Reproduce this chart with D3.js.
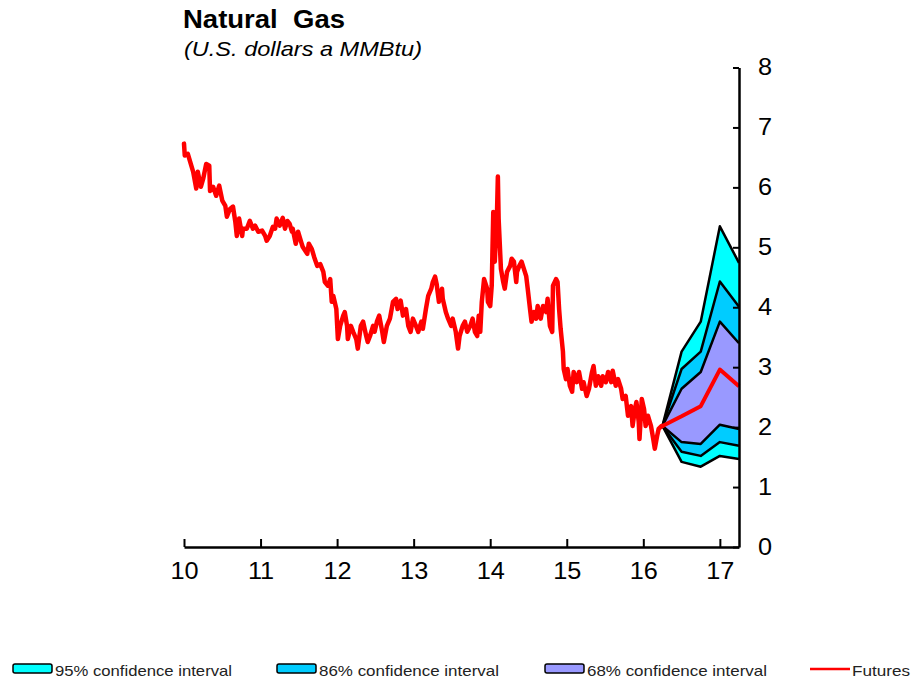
<!DOCTYPE html>
<html>
<head>
<meta charset="utf-8">
<script src="https://cdn.jsdelivr.net/npm/d3@7"></script>
<style>
  html, body { margin: 0; padding: 0; background: #fff; }
  svg { display: block; font-family: Arial, "Liberation Sans", sans-serif; }
</style>
</head>
<body>
<svg id="chart" width="913" height="679"></svg>
<script>
// ---- Data ----
const priceYears = [
 10.00,10.01,10.05,10.08,10.12,10.16,10.18,10.22,10.25,10.29,10.33,10.34,10.38,10.42,10.46,10.50,10.54,10.56,10.60,10.64,
 10.67,10.69,10.72,10.76,10.77,10.82,10.86,10.90,10.93,10.97,11.02,11.06,11.08,11.12,11.16,11.19,11.21,11.25,11.29,11.32,
 11.35,11.38,11.41,11.42,11.46,11.49,11.53,11.55,11.61,11.63,11.67,11.70,11.74,11.78,11.82,11.84,11.88,11.91,11.93,11.95,
 11.99,12.01,12.04,12.08,12.10,12.13,12.14,12.18,12.21,12.25,12.27,12.31,12.34,12.38,12.40,12.43,12.47,12.49,12.52,12.55,
 12.59,12.61,12.65,12.69,12.73,12.77,12.79,12.83,12.86,12.90,12.93,12.96,12.99,13.03,13.06,13.10,13.12,13.16,13.19,13.23,
 13.25,13.28,13.30,13.33,13.37,13.38,13.42,13.45,13.49,13.51,13.55,13.58,13.60,13.64,13.67,13.70,13.74,13.77,13.80,13.83,
 13.85,13.87,13.89,13.92,13.96,13.97,14.00,14.02,14.04,14.06,14.09,14.10,14.11,14.14,14.17,14.19,14.22,14.26,14.28,14.31,
 14.34,14.35,14.38,14.41,14.44,14.47,14.49,14.52,14.54,14.57,14.60,14.62,14.66,14.69,14.73,14.75,14.78,14.81,14.82,14.86,
 14.88,14.90,14.92,14.95,14.96,14.99,15.01,15.04,15.07,15.09,15.13,15.16,15.20,15.22,15.26,15.29,15.33,15.35,15.38,15.41,
 15.45,15.47,15.51,15.54,15.58,15.60,15.64,15.67,15.71,15.73,15.77,15.80,15.84,15.86,15.89,15.91,15.94,15.95,15.98,16.01,
 16.03,16.06,16.10,16.13,16.15,16.18,16.20,16.24,16.25
];
const priceValues = [
 6.73,6.53,6.56,6.43,6.26,5.98,6.26,6.01,6.14,6.39,6.36,5.94,6.01,5.86,6.03,5.78,5.69,5.51,5.64,5.68,
 5.43,5.19,5.48,5.19,5.31,5.31,5.44,5.31,5.36,5.26,5.28,5.19,5.11,5.19,5.34,5.31,5.48,5.36,5.49,5.31,
 5.44,5.39,5.26,5.31,5.06,5.26,5.09,5.01,4.89,5.06,4.97,4.84,4.69,4.72,4.59,4.42,4.36,4.47,4.09,4.19,
 3.97,3.47,3.69,3.86,3.92,3.69,3.47,3.69,3.59,3.47,3.31,3.69,3.76,3.52,3.42,3.52,3.69,3.59,3.76,3.86,
 3.59,3.42,3.69,3.81,4.09,4.14,3.97,4.11,3.86,3.97,3.69,3.59,3.81,3.69,3.59,3.76,3.64,3.97,4.19,4.31,
 4.42,4.51,4.39,4.09,4.31,4.14,3.92,3.81,3.69,3.81,3.59,3.31,3.52,3.69,3.76,3.59,3.69,3.81,3.59,3.52,
 3.86,3.59,4.09,4.47,4.31,4.09,4.02,4.36,5.59,4.76,5.64,6.18,5.48,4.64,4.42,4.31,4.59,4.69,4.81,4.76,
 4.42,4.59,4.69,4.76,4.64,4.52,4.31,3.97,3.76,3.92,3.81,4.02,3.81,4.02,3.92,4.14,3.69,3.59,4.36,4.47,
 4.42,3.97,3.64,3.26,2.97,2.80,2.97,2.69,2.59,2.92,2.75,2.92,2.64,2.75,2.52,2.64,2.92,3.02,2.69,2.85,
 2.69,2.85,2.75,2.92,2.75,2.94,2.69,2.80,2.64,2.47,2.52,2.19,2.35,2.02,2.30,2.42,2.09,1.80,2.47,2.30,
 2.02,2.19,2.02,1.80,1.64,1.85,1.97,2.02,2.02
];

const fanYears  = [16.25, 16.5, 16.75, 17.0, 17.25];
const upper95   = [2.02, 3.26, 3.76, 5.35, 4.74];
const upper86   = [2.02, 2.97, 3.26, 4.43, 4.01];
const upper68   = [2.02, 2.64, 2.92, 3.76, 3.40];
const lower68   = [2.02, 1.75, 1.72, 2.04, 1.97];
const lower86   = [2.02, 1.59, 1.52, 1.75, 1.69];
const lower95   = [2.02, 1.42, 1.34, 1.52, 1.47];
const futures   = [2.02, 2.18, 2.35, 2.96, 2.68];

const xTickValues = [10, 11, 12, 13, 14, 15, 16, 17];
const yTickValues = [0, 1, 2, 3, 4, 5, 6, 7, 8];

const legendLabels = ["95% confidence interval", "86% confidence interval", "68% confidence interval", "Futures"];
const titleText = "Natural  Gas";
const subtitleText = "(U.S. dollars a MMBtu)";

// ---- Layout ----
const svg = d3.select("#chart");
const plotLeft = 184, plotRight = 739, plotTop = 67.5, plotBottom = 547;
const x = d3.scaleLinear().domain([10, 17.25]).range([plotLeft, plotRight]);
const y = d3.scaleLinear().domain([0, 8]).range([plotBottom, plotTop]);

const C95 = "#00FFFF", C86 = "#00CCFF", C68 = "#9999FF", CRED = "#FF0000";
const STRETCH = 1.1;

function stretch(sel) {
  sel.each(function () {
    const w = this.getComputedTextLength();
    if (w > 0) {
      d3.select(this).attr("textLength", w * STRETCH).attr("lengthAdjust", "spacingAndGlyphs");
    }
  });
}

// Title
svg.append("text").attr("x", 183).attr("y", 28)
  .style("font-size", "25px").style("font-weight", "bold").style("white-space", "pre")
  .attr("fill", "#000").text(titleText)
  .attr("textLength", 162).attr("lengthAdjust", "spacingAndGlyphs");
svg.append("text").attr("x", 184).attr("y", 56)
  .style("font-size", "21px").style("font-style", "italic")
  .attr("fill", "#000").text(subtitleText)
  .attr("textLength", 238).attr("lengthAdjust", "spacingAndGlyphs");

// Fan chart
const fanData = fanYears.map((t, i) => ({
  t, u95: upper95[i], u86: upper86[i], u68: upper68[i],
  l68: lower68[i], l86: lower86[i], l95: lower95[i], f: futures[i]
}));

function band(lo, hi) {
  return d3.area().x(d => x(d.t)).y0(d => y(d[lo])).y1(d => y(d[hi]));
}
const gFan = svg.append("g");
gFan.append("path").datum(fanData).attr("d", band("l95", "u95")).attr("fill", C95);
gFan.append("path").datum(fanData).attr("d", band("l86", "u86")).attr("fill", C86);
gFan.append("path").datum(fanData).attr("d", band("l68", "u68")).attr("fill", C68);
["u95", "u86", "u68", "l68", "l86", "l95"].forEach(k => {
  gFan.append("path").datum(fanData)
    .attr("d", d3.line().x(d => x(d.t)).y(d => y(d[k])))
    .attr("fill", "none").attr("stroke", "#000").attr("stroke-width", 2.5)
    .attr("stroke-linejoin", "round");
});

// Price line
const priceData = priceYears.map((t, i) => ({ t, v: priceValues[i] }));
svg.append("path").datum(priceData)
  .attr("d", d3.line().x(d => x(d.t)).y(d => y(d.v)))
  .attr("fill", "none").attr("stroke", CRED).attr("stroke-width", 4.5)
  .attr("stroke-linejoin", "round").attr("stroke-linecap", "round");

// Futures
svg.append("path").datum(fanData)
  .attr("d", d3.line().x(d => x(d.t)).y(d => y(d.f)))
  .attr("fill", "none").attr("stroke", CRED).attr("stroke-width", 4)
  .attr("stroke-linejoin", "round");

// Axes
const xAxis = d3.axisBottom(x).tickValues(xTickValues).tickFormat(d3.format("d"))
  .tickSize(-8).tickSizeOuter(0).tickPadding(16);
const gx = svg.append("g").attr("transform", `translate(0,${plotBottom})`).call(xAxis);
gx.select(".domain").attr("stroke", "#000").attr("stroke-width", 2.5);
gx.selectAll(".tick line").attr("stroke", "#000").attr("stroke-width", 2);
gx.selectAll(".tick text").style("font-size", "23px").attr("fill", "#000")
  .style("font-family", "Arial, 'Liberation Sans', sans-serif").call(stretch);

const yAxis = d3.axisRight(y).tickValues(yTickValues).tickFormat(d3.format("d"))
  .tickSize(-6).tickSizeOuter(0).tickPadding(19);
const gy = svg.append("g").attr("transform", `translate(${plotRight},0)`).call(yAxis);
gy.select(".domain").attr("stroke", "#000").attr("stroke-width", 2.5);
gy.selectAll(".tick line").attr("stroke", "#000").attr("stroke-width", 2);
gy.selectAll(".tick text").style("font-size", "23px").attr("fill", "#000")
  .style("font-family", "Arial, 'Liberation Sans', sans-serif").call(stretch);

// Legend
const legendItems = [
  { label: legendLabels[0], type: "rect", color: C95, sx: 13, tx: 55, tw: 177 },
  { label: legendLabels[1], type: "rect", color: C86, sx: 277, tx: 319, tw: 180 },
  { label: legendLabels[2], type: "rect", color: C68, sx: 545, tx: 587, tw: 180 },
  { label: legendLabels[3], type: "line", color: CRED, sx: 810, tx: 852, tw: 58 }
];
const gl = svg.append("g");
legendItems.forEach(it => {
  if (it.type === "rect") {
    gl.append("rect").attr("x", it.sx).attr("y", 664).attr("width", 39).attr("height", 9)
      .attr("rx", 2).attr("fill", it.color).attr("stroke", "#000").attr("stroke-width", 1.5);
  } else {
    gl.append("line").attr("x1", it.sx).attr("x2", it.sx + 40).attr("y1", 669).attr("y2", 669)
      .attr("stroke", it.color).attr("stroke-width", 2.5);
  }
  gl.append("text").attr("x", it.tx).attr("y", 676).style("font-size", "15px")
    .attr("fill", "#222").text(it.label)
    .attr("textLength", it.tw).attr("lengthAdjust", "spacingAndGlyphs");
});
</script>
</body>
</html>
